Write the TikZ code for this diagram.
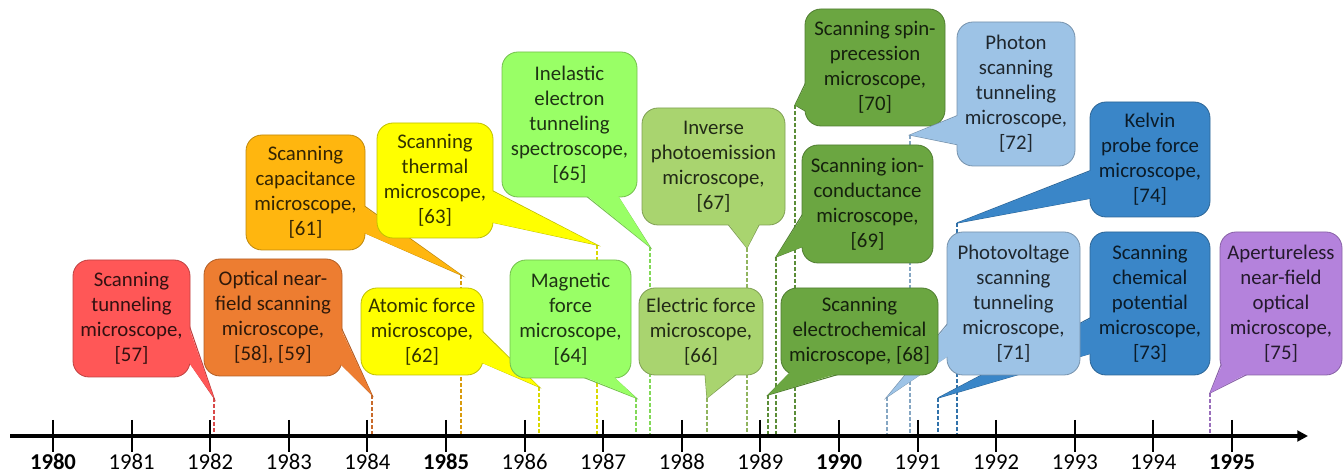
\documentclass[tikz,border=0pt]{standalone}
\usepackage{fontspec}
\setmainfont{Carlito}
\usetikzlibrary{arrows.meta}
\definecolor{stmred}{HTML}{FF5757}
\definecolor{snomorange}{HTML}{ED7D31}
\definecolor{scmgold}{HTML}{FFB60F}
\definecolor{afmyellow}{HTML}{FFFF00}
\definecolor{mfmgreen}{HTML}{99FF66}
\definecolor{efmgreen}{HTML}{A9D46F}
\definecolor{secmgreen}{HTML}{6BA641}
\definecolor{pstmblue}{HTML}{9DC3E6}
\definecolor{kpfmblue}{HTML}{3A86C8}
\definecolor{anompurple}{HTML}{B482DC}
\begin{document}
\begin{tikzpicture}[x=0.75pt, y=-0.75pt,
    box/.style={rectangle, rounded corners=12pt, draw=#1!75!black, fill=#1, line width=0.6pt,
      inner sep=0pt, align=center, text=#1!20!black, font=\fontsize{15.6}{18.75}\selectfont},
    sz/.style 2 args={minimum width=#1*0.75pt, minimum height=#2*0.75pt},
    tailedge/.style={draw=#1!75!black, line width=0.8pt},
    guide/.style={draw=#1!85!black, line width=1.1pt, dash pattern=on 3pt off 1.5pt},
    tick/.style={line width=1.5pt},
    yearlab/.style={font=\fontsize{17}{20}\selectfont, anchor=base, inner sep=0pt, text depth=0pt}
  ]
  \useasboundingbox (0,0) rectangle (1343,473);

  % axis ends
  \coordinate (ax0) at (10,436);
  \coordinate (ax1) at (1308,436);

  % where each callout points
  \coordinate (t57) at (214,398);
  \coordinate (t58) at (372,395);
  \coordinate (t61) at (461,275);
  \coordinate (t62) at (539,387);
  \coordinate (t63) at (597,245);
  \coordinate (t64) at (636,398);
  \coordinate (t65) at (650,247);
  \coordinate (t66) at (707,398);
  \coordinate (t67) at (747,248);
  \coordinate (t68) at (768,395);
  \coordinate (t69) at (776,257);
  \coordinate (t70) at (795,105);
  \coordinate (t71) at (887,397);
  \coordinate (t72) at (910,135);
  \coordinate (t73) at (938,398);
  \coordinate (t74) at (957,223);
  \coordinate (t75) at (1210,393);

  % dashed drops to the axis
  \draw[guide=stmred] (t57) -- (t57 |- ax0);
  \draw[guide=snomorange] (t58) -- (t58 |- ax0);
  \draw[guide=scmgold] (t61) -- (t61 |- ax0);
  \draw[guide=afmyellow] (t62) -- (t62 |- ax0);
  \draw[guide=afmyellow] (t63) -- (t63 |- ax0);
  \draw[guide=mfmgreen] (t64) -- (t64 |- ax0);
  \draw[guide=mfmgreen] (t65) -- (t65 |- ax0);
  \draw[guide=efmgreen] (t66) -- (t66 |- ax0);
  \draw[guide=efmgreen] (t67) -- (t67 |- ax0);
  \draw[guide=secmgreen] (t68) -- (t68 |- ax0);
  \draw[guide=secmgreen] (t69) -- (t69 |- ax0);
  \draw[guide=secmgreen] (t70) -- (t70 |- ax0);
  \draw[guide=pstmblue] (t71) -- (t71 |- ax0);
  \draw[guide=pstmblue] (t72) -- (t72 |- ax0);
  \draw[guide=kpfmblue] (t73) -- (t73 |- ax0);
  \draw[guide=kpfmblue] (t74) -- (t74 |- ax0);
  \draw[guide=anompurple] (t75) -- (t75 |- ax0);

  % time axis
  \draw[line width=2.4pt, -{Triangle[length=8pt, width=8pt]}] (ax0) -- (ax1);
  \foreach \i in {0,...,15}{
    \pgfmathtruncatemacro\yr{1980+\i}
    \pgfmathtruncatemacro\rem{mod(\i,5)}
    \draw[tick] ({53+78.6*\i},420) -- ({53+78.6*\i},452);
    \node[yearlab] (y\yr) at ({53+78.6*\i},470) {\ifnum\rem=0 \textbf{\yr}\else\yr\fi};
  }

  % callouts
  \draw[tailedge=stmred] (188,322) -- (t57) -- (188,360);
  \node[box=stmred, sz={117}{117}] (stm) at (131.5,318.5) {Scanning\\tunneling\\microscope,\\{[57]}};
  \fill[stmred] (187,322) -- (t57) -- (187,360) -- cycle;

  \draw[tailedge=snomorange] (340,325) -- (t58) -- (340,363);
  \node[box=snomorange, sz={138}{117}] (snom) at (273,317.5) {Optical near-\\field scanning\\microscope,\\{[58], [59]}};
  \fill[snomorange] (339,325) -- (t58) -- (339,363) -- cycle;

  \draw[tailedge=scmgold] (363,205) -- (t61) -- (363,232);
  \node[box=scmgold, sz={119}{115}] (scm) at (305.5,192.5) {Scanning\\capacitance\\microscope,\\{[61]}};
  \fill[scmgold] (362,205) -- (t61) -- (362,232) -- cycle;

  \draw[tailedge=afmyellow] (491,190) -- (t63) -- (491,222);
  \node[box=afmyellow, sz={116}{115}] (sthm) at (435,180.5) {Scanning\\thermal\\microscope,\\{[63]}};
  \fill[afmyellow] (490,190) -- (t63) -- (490,222) -- cycle;

  \draw[tailedge=afmyellow] (481,330) -- (t62) -- (481,362);
  \node[box=afmyellow, sz={122}{87}] (afm) at (422,331.5) {Atomic force\\microscope,\\{[62]}};
  \fill[afmyellow] (480,330) -- (t62) -- (480,362) -- cycle;

  \draw[tailedge=mfmgreen] (585,195) -- (t65) -- (617,195);
  \node[box=mfmgreen, sz={135}{145}] (iets) at (569.5,124.5) {Inelastic\\electron\\tunneling\\spectroscope,\\{[65]}};
  \fill[mfmgreen] (585,194) -- (t65) -- (617,194) -- cycle;

  \draw[tailedge=mfmgreen] (580,376) -- (t64) -- (612,376);
  \node[box=mfmgreen, sz={121}{118}] (mfm) at (570.5,319) {Magnetic\\force\\microscope,\\{[64]}};
  \fill[mfmgreen] (580,375) -- (t64) -- (612,375) -- cycle;

  \draw[tailedge=efmgreen] (727,223) -- (t67) -- (760,223);
  \node[box=efmgreen, sz={143}{117}] (ipem) at (713.5,166.5) {Inverse\\photoemission\\microscope,\\{[67]}};
  \fill[efmgreen] (727,222) -- (t67) -- (760,222) -- cycle;

  \draw[tailedge=efmgreen] (705,373) -- (t66) -- (738,373);
  \node[box=efmgreen, sz={124}{87}] (efm) at (701,331.5) {Electric force\\microscope,\\{[66]}};
  \fill[efmgreen] (705,372) -- (t66) -- (738,372) -- cycle;

  \draw[tailedge=secmgreen] (807,80) -- (t70) -- (807,112);
  \node[box=secmgreen, sz={140}{117}] (sspm) at (875,67.5) {Scanning spin-\\precession\\microscope,\\{[70]}};
  \fill[secmgreen] (808,80) -- (t70) -- (808,112) -- cycle;

  \draw[tailedge=secmgreen] (804,212) -- (t69) -- (804,246);
  \node[box=secmgreen, sz={131}{118}] (sicm) at (867.5,204) {Scanning ion-\\conductance\\microscope,\\{[69]}};
  \fill[secmgreen] (805,212) -- (t69) -- (805,246) -- cycle;

  \draw[tailedge=pstmblue] (959,115) -- (t72) -- (959,145);
  \node[box=pstmblue, sz={118}{144}] (pstm) at (1016,94) {Photon\\scanning\\tunneling\\microscope,\\{[72]}};
  \fill[pstmblue] (960,115) -- (t72) -- (960,145) -- cycle;

  \draw[tailedge=kpfmblue] (1092,170) -- (t74) -- (1092,198);
  \node[box=kpfmblue, sz={120}{115}] (kpfm) at (1150,159.5) {Kelvin\\probe force\\microscope,\\{[74]}};
  \fill[kpfmblue] (1093,170) -- (t74) -- (1093,198) -- cycle;

  \draw[tailedge=kpfmblue] (1092,317) -- (t73) -- (1092,353);
  \node[box=kpfmblue, sz={120}{143}] (scpm) at (1150,303.5) {Scanning\\chemical\\potential\\microscope,\\{[73]}};
  \fill[kpfmblue] (1093,317) -- (t73) -- (1093,353) -- cycle;

  \draw[tailedge=pstmblue] (949,322) -- (t71) -- (949,355);
  \node[box=pstmblue, sz={133}{143}] (pvstm) at (1013.5,303.5) {Photovoltage\\scanning\\tunneling\\microscope,\\{[71]}};
  \fill[pstmblue] (950,322) -- (t71) -- (950,355) -- cycle;

  \draw[tailedge=secmgreen] (790,373) -- (t68) -- (843,373);
  \node[box=secmgreen, sz={157}{87}] (secm) at (859.5,331.5) {Scanning\\electrochemical\\microscope, [68]};
  \fill[secmgreen] (790,372) -- (t68) -- (843,372) -- cycle;

  \draw[tailedge=anompurple] (1223,360) -- (t75) -- (1250,373);
  \node[box=anompurple, sz={122}{143}] (anom) at (1281,303.5) {Apertureless\\near-field\\optical\\microscope,\\{[75]}};
  \fill[anompurple] (1224,360) -- (t75) -- (1250,372) -- cycle;
\end{tikzpicture}
\end{document}
